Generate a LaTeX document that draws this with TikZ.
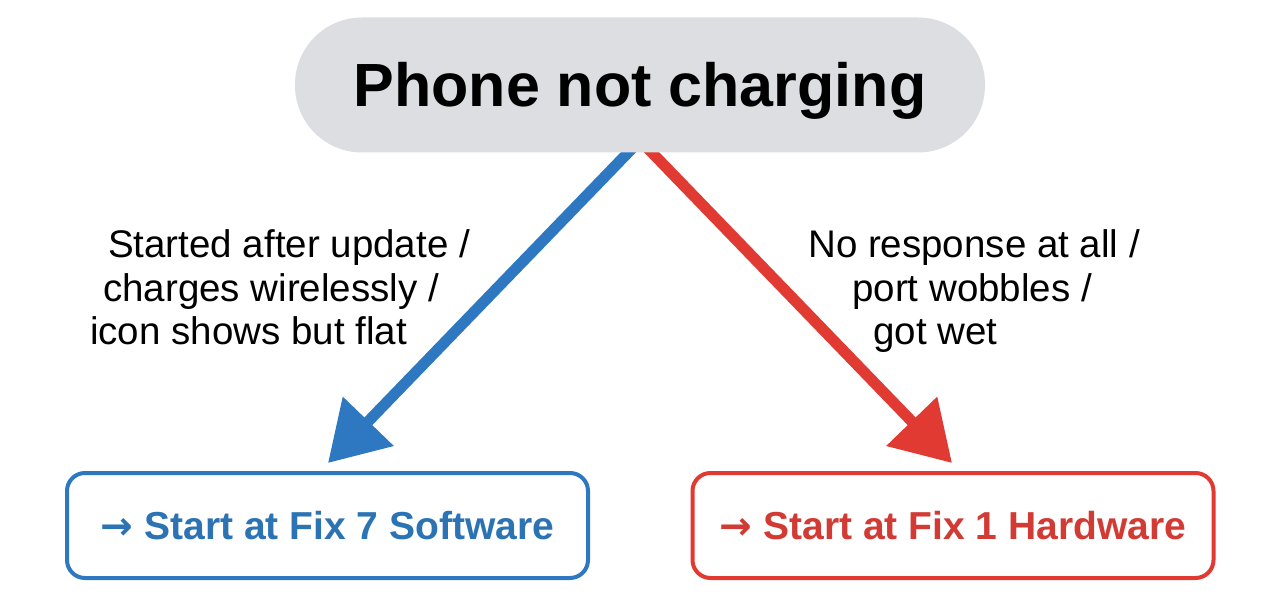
\documentclass[tikz,border=0pt]{standalone}
\usepackage{fontspec}
\setmainfont{Liberation Sans}
\newfontfamily\arrowfont{DejaVu Sans}
\usetikzlibrary{arrows.meta,backgrounds}
\definecolor{pillgray}{RGB}{220,222,226}
\definecolor{swblue}{RGB}{46,120,194}
\definecolor{swbluetext}{RGB}{44,115,180}
\definecolor{hwred}{RGB}{224,58,50}
\definecolor{hwredtext}{RGB}{210,58,52}
\tikzset{
  pill/.style={fill=pillgray, rounded corners=67pt, minimum width=690pt, minimum height=135pt,
    inner sep=0pt, text height=44pt, text depth=0pt,
    font=\fontsize{61}{61}\selectfont\bfseries},
  fixbox/.style={line width=4pt, rounded corners=18pt, fill=white, inner sep=0pt,
    minimum width=521pt, minimum height=105pt, text height=28pt, text depth=0pt,
    font=\fontsize{39}{39}\selectfont\bfseries},
  lbl/.style={anchor=base west, inner sep=0pt, font=\fontsize{38.5}{38.5}\selectfont},
  bigarrow/.style={line width=11pt, -{Triangle[length=58pt,width=68pt]}},
}
\newcommand{\rarr}{{\arrowfont\bfseries →}}
\begin{document}
\begin{tikzpicture}[x=1pt,y=1pt]
\useasboundingbox (0,0) rectangle (1280,595);
% top node
\node[pill] (top) at (640,510) {Phone not charging};
% bottom boxes
\node[fixbox, draw=swblue, text=swbluetext] (sw) at (327.5,69.5) {\rarr\ Start at Fix 7 Software};
\node[fixbox, draw=hwred, text=hwredtext] (hw) at (953,69.5) {\rarr\ Start at Fix 1 Hardware};
% arrow endpoints
\coordinate (bstart) at (633.5,448);
\coordinate (rstart) at (646.5,448);
\coordinate (btip) at (328,132);
\coordinate (rtip) at (952,132);
\begin{scope}[on background layer]
\fill[white] (0,0) rectangle (1280,595);
\draw[bigarrow, swblue] (bstart) -- (btip);
\draw[bigarrow, hwred] (rstart) -- (rtip);
\end{scope}
% labels
\node[lbl] (l1) at (108,337) {Started after update /};
\node[lbl] (l2) at (103,293) {charges wirelessly /};
\node[lbl] (l3) at (90,250) {icon shows but flat};
\node[lbl] (r1) at (808,337) {No response at all /};
\node[lbl] (r2) at (852,293) {port wobbles /};
\node[lbl] (r3) at (873,250) {got wet};
\end{tikzpicture}
\end{document}
